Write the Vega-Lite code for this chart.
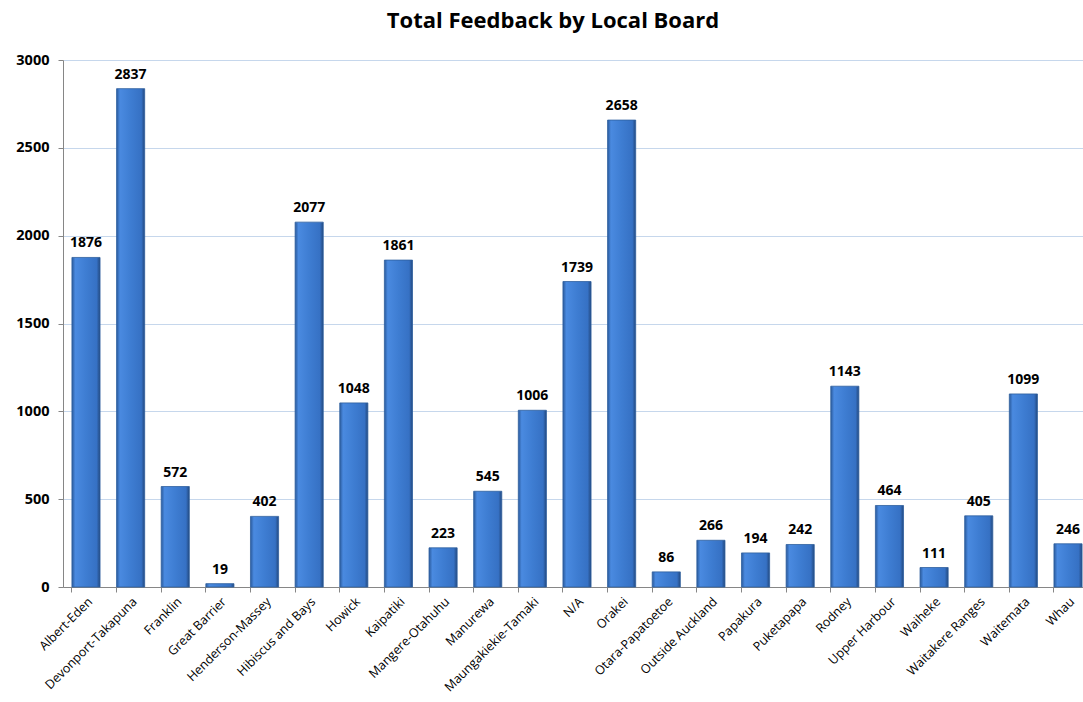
{
  "$schema": "https://vega.github.io/schema/vega-lite/v6.json",
  "autosize": {"type": "none"},
  "padding": {"left": 63, "top": 60, "right": 0, "bottom": 115},
  "width": 1028,
  "height": 527,
  "background": "white",
  "title": {"text": "Total Feedback by Local Board", "font": "Open Sans", "fontSize": 22, "fontWeight": "bold", "color": "#000000", "anchor": "start", "dx": 371, "offset": 19},
  "data": {"values": [
    {"board": "Albert-Eden", "count": 1876},
    {"board": "Devonport-Takapuna", "count": 2837},
    {"board": "Franklin", "count": 572},
    {"board": "Great Barrier", "count": 19},
    {"board": "Henderson-Massey", "count": 402},
    {"board": "Hibiscus and Bays", "count": 2077},
    {"board": "Howick", "count": 1048},
    {"board": "Kaipatiki", "count": 1861},
    {"board": "Mangere-Otahuhu", "count": 223},
    {"board": "Manurewa", "count": 545},
    {"board": "Maungakiekie-Tamaki", "count": 1006},
    {"board": "N/A", "count": 1739},
    {"board": "Orakei", "count": 2658},
    {"board": "Otara-Papatoetoe", "count": 86},
    {"board": "Outside Auckland", "count": 266},
    {"board": "Papakura", "count": 194},
    {"board": "Puketapapa", "count": 242},
    {"board": "Rodney", "count": 1143},
    {"board": "Upper Harbour", "count": 464},
    {"board": "Waiheke", "count": 111},
    {"board": "Waitakere Ranges", "count": 405},
    {"board": "Waitemata", "count": 1099},
    {"board": "Whau", "count": 246}
  ]},
  "encoding": {
    "x": {"field": "board", "type": "nominal", "sort": null,
      "scale": {"paddingInner": 0.37, "paddingOuter": 0.2},
      "axis": {"title": null, "labelAngle": -45, "labelAlign": "right", "labelBaseline": "top", "labelFont": "Open Sans", "labelFontSize": 12.5, "labelColor": "#000000", "labelPadding": 3, "bandPosition": 0, "tickColor": "#868686", "tickSize": 5, "domainColor": "#868686", "grid": false}},
    "y": {"field": "count", "type": "quantitative",
      "scale": {"domain": [0, 3000], "nice": false},
      "axis": {"title": null, "values": [0, 500, 1000, 1500, 2000, 2500, 3000], "format": "d", "labelFont": "Open Sans", "labelFontSize": 14.5, "labelFontWeight": "bold", "labelColor": "#000000", "labelPadding": 9, "tickColor": "#868686", "tickSize": 5, "domainColor": "#868686", "gridColor": "#c6d7ec", "gridWidth": 1}}
  },
  "layer": [
    {"mark": {"type": "bar", "stroke": "#2f5f9e", "strokeWidth": 0.8,
      "fill": {"gradient": "linear", "x1": 0, "y1": 0, "x2": 1, "y2": 0, "stops": [
        {"offset": 0, "color": "#2a5a9c"},
        {"offset": 0.12, "color": "#4a8ae0"},
        {"offset": 0.5, "color": "#3e7dd2"},
        {"offset": 0.88, "color": "#3671c4"},
        {"offset": 1, "color": "#23497f"}]}}},
    {"mark": {"type": "text", "dy": -14, "font": "Open Sans", "fontSize": 14, "fontWeight": "bold", "color": "#000000"},
      "encoding": {"text": {"field": "count", "type": "quantitative", "format": "d"}}}
  ],
  "config": {"view": {"stroke": null}}
}
